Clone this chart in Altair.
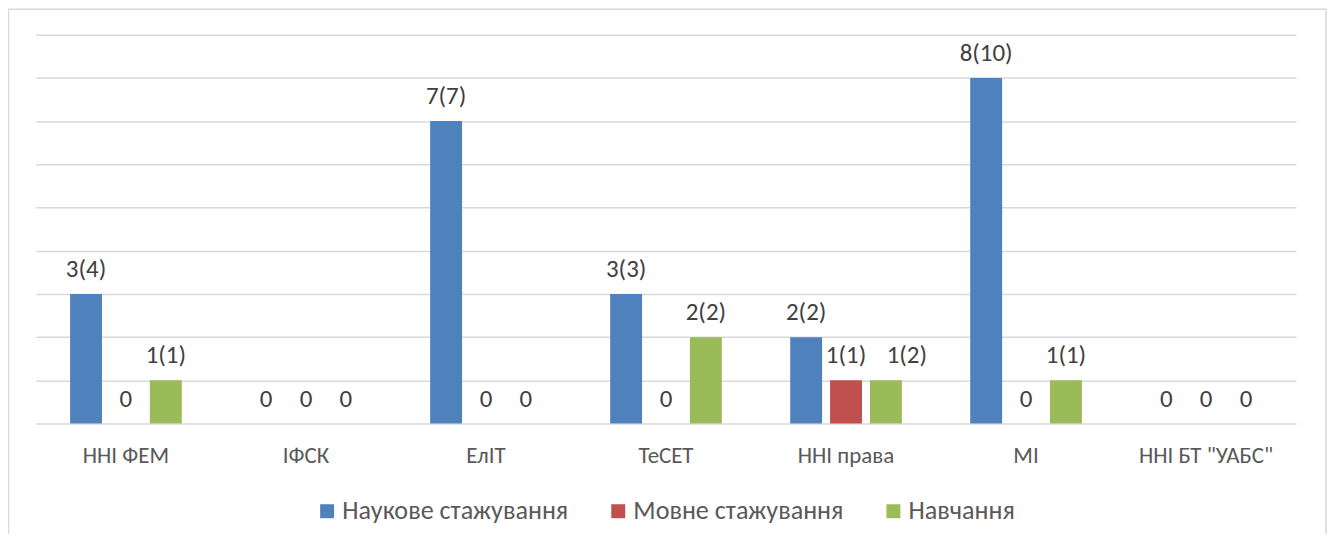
import altair as alt
import pandas as pd

categories = ["ННІ ФЕМ", "ІФСК", "ЕлІТ", "ТеСЕТ", "ННІ права", "МІ", 'ННІ БТ "УАБС"']
series = ["Наукове стажування", "Мовне стажування", "Навчання"]
science = [3, 0, 7, 3, 2, 8, 0]
language = [0, 0, 0, 0, 1, 0, 0]
study = [1, 0, 0, 2, 1, 1, 0]
science_labels = ["3(4)", "0", "7(7)", "3(3)", "2(2)", "8(10)", "0"]
language_labels = ["0", "0", "0", "0", "1(1)", "0", "0"]
study_labels = ["1(1)", "0", "0", "2(2)", "1(2)", "1(1)", "0"]
colors = ["#4F81BD", "#C0504D", "#9BBB59"]
y_ticks = [0, 1, 2, 3, 4, 5, 6, 7, 8, 9]

FONT = "Carlito, Lato, sans-serif"

rows = []
for i, c in enumerate(categories):
    for s, vals, labs in zip(series, [science, language, study],
                             [science_labels, language_labels, study_labels]):
        rows.append({"category": c, "series": s, "value": vals[i], "label": labs[i]})
df = pd.DataFrame(rows)

x_enc = alt.X("category:N", sort=categories,
              scale=alt.Scale(paddingInner=0, paddingOuter=0),
              axis=alt.Axis(title=None, labelAngle=0, ticks=False, domain=False,
                            grid=False, labelPadding=21, labelFontSize=23,
                            labelFont=FONT, labelColor="#595959", labelLimit=0))
xo_enc = alt.XOffset("series:N", sort=series,
                     scale=alt.Scale(domain=series, paddingInner=0.2, paddingOuter=0.857))
y_enc = alt.Y("value:Q", scale=alt.Scale(domain=[0, 9], nice=False),
              axis=alt.Axis(title=None, values=y_ticks, labels=False, ticks=False,
                            domain=False, grid=True, gridColor="#D9D9D9", gridWidth=1.5))

base = alt.Chart(df)

bars = base.mark_bar().encode(
    x=x_enc, xOffset=xo_enc, y=y_enc,
    color=alt.Color("series:N", sort=series,
                    scale=alt.Scale(domain=series, range=colors),
                    legend=alt.Legend(orient="none", legendX=279, legendY=464.5,
                                      direction="horizontal", title=None,
                                      symbolType="square", symbolSize=196,
                                      symbolStrokeWidth=0, labelFontSize=26.2,
                                      labelFont=FONT, labelColor="#595959",
                                      labelLimit=0,
                                      columnPadding=37, labelOffset=2, padding=0)),
)

shifted = (alt.datum.category == "ННІ права") & (alt.datum.series == "Навчання")

labels = base.mark_text(baseline="alphabetic", dy=-17, fontSize=25, font=FONT,
                        color="#404040").encode(
    x=x_enc, xOffset=xo_enc, y=y_enc, text="label:N"
).transform_filter(~shifted)

labels_shift = base.mark_text(baseline="alphabetic", dy=-17, dx=21, fontSize=25,
                              font=FONT, color="#404040").encode(
    x=x_enc, xOffset=xo_enc, y=y_enc, text="label:N"
).transform_filter(shifted)

border = alt.Chart(pd.DataFrame({"a": [0]})).mark_rect(
    fill=None, stroke="#D9D9D9", strokeWidth=1.5
).encode(x=alt.value(-27.5), x2=alt.value(1294), y=alt.value(-25.5), y2=alt.value(700))

chart = alt.layer(border, bars, labels, labels_shift).properties(
    width=1264, height=390,
    autosize=alt.AutoSizeParams(type="none"),
    padding={"left": 28, "top": 26, "right": 31, "bottom": 110},
).configure_view(stroke=None)

chart.save("out.html", embed_options={"renderer": "svg", "actions": False})
